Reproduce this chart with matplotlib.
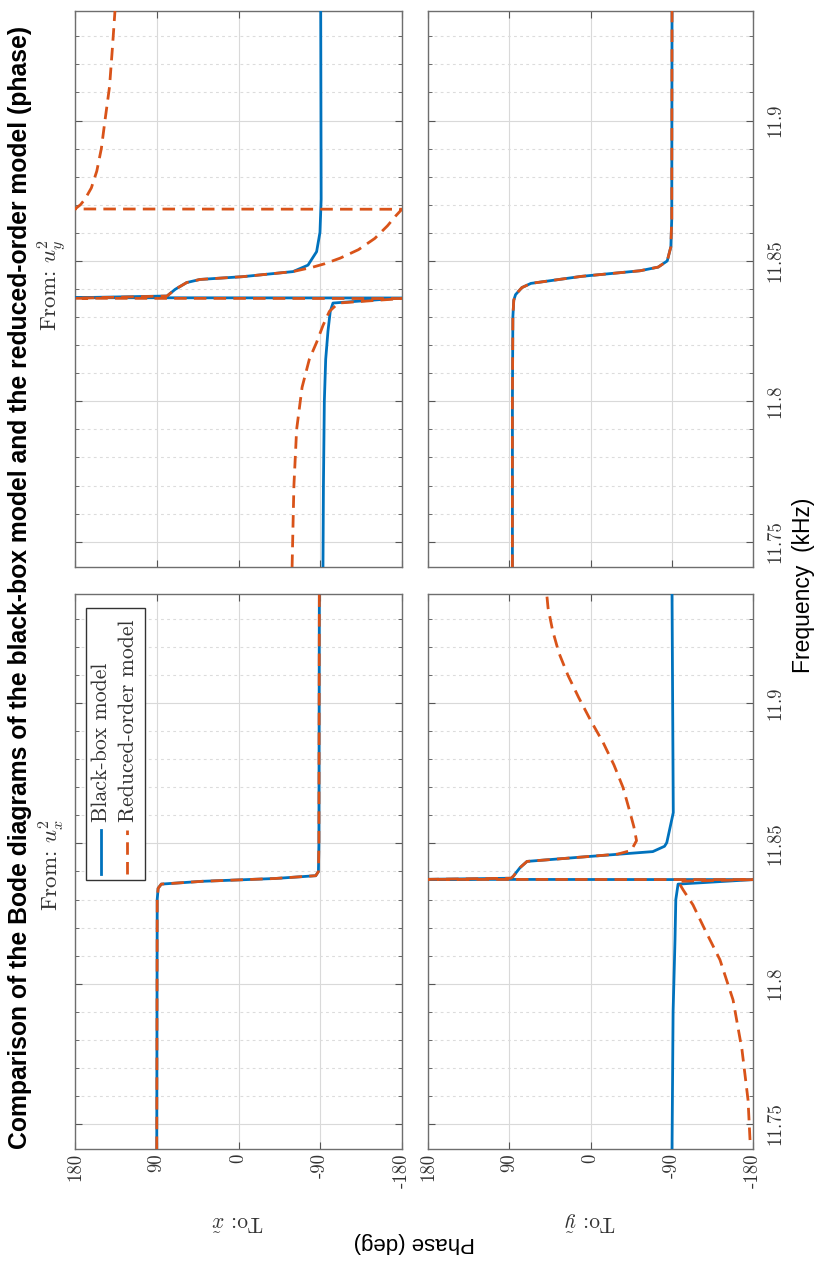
import numpy as np
import matplotlib
matplotlib.use('Agg')
import matplotlib.pyplot as plt
from matplotlib.patches import Rectangle
from matplotlib.lines import Line2D

plt.rcParams['mathtext.fontset'] = 'cm'
plt.rcParams['axes.unicode_minus'] = False

BLUE = '#0072BD'
ORANGE = '#D95319'
TXT = '#333333'

# ---------------- data (frequency in kHz, phase in deg) ----------------
# To x~ / From u_x^2 (both models coincide)
fA = [11.741, 11.830, 11.834, 11.8355, 11.8365, 11.837, 11.8375, 11.8385, 11.840, 11.850, 11.939]
pA = [90, 89.5, 88.5, 85, 40, 0, -40, -85, -88, -88.5, -89]

# To x~ / From u_y^2
fB_bb = [11.741, 11.770, 11.800, 11.815, 11.825, 11.832, 11.835, 11.8368, 11.8369, 11.8375, 11.8399,
         11.8423, 11.8434, 11.8444, 11.8462, 11.8485, 11.8533, 11.8602, 11.872, 11.939]
pB_bb = [-93, -93.5, -94.5, -96, -98.5, -101, -104, -179.9, 179.9, 78.7, 69.6,
         57, 42.4, -5, -60, -76.5, -86, -89.7, -91, -90.5]
fB_ro = [11.741, 11.770, 11.790, 11.805, 11.815, 11.821, 11.827, 11.832, 11.835, 11.8366, 11.8367,
         11.8375, 11.8399, 11.8423, 11.8434, 11.8444, 11.8462, 11.8478, 11.849, 11.851, 11.854,
         11.858, 11.8625, 11.866, 11.8684, 11.8685, 11.870, 11.872, 11.876, 11.882, 11.890,
         11.900, 11.912, 11.925, 11.939]
pB_ro = [-59, -61, -64, -70, -78, -86, -93, -100, -110, -179.9, 179.9,
         78.7, 69.6, 57, 42.4, -5, -60, -82, -95, -112, -132,
         -150, -164, -173, -179.9, 179.9, 174, 169, 162, 156, 151,
         147, 142, 139, 136]

# To y~ / From u_x^2
fC_bb = [11.741, 11.790, 11.8156, 11.830, 11.8355, 11.8371, 11.8372, 11.8376, 11.8383, 11.8414,
         11.8436, 11.8453, 11.8471, 11.8490, 11.8503, 11.861, 11.939]
pC_bb = [-90.3, -91.5, -93.6, -94.5, -97, -179.9, 179.9, 88, 85.5, 78,
         70.3, 4, -69, -82, -84.5, -91.7, -90.3]
fC_ro = [11.7442, 11.7585, 11.7764, 11.7942, 11.8085, 11.8192, 11.8281, 11.8335, 11.8365, 11.8371,
         11.8372, 11.8376, 11.8383, 11.8414, 11.8436, 11.8453, 11.8462, 11.8475, 11.851, 11.856,
         11.862, 11.870, 11.878, 11.886, 11.894, 11.902, 11.910, 11.918, 11.926, 11.934, 11.939]
pC_ro = [-176.7, -174.5, -167.8, -157.9, -143.4, -126.8, -113.5, -102.5, -97, -179.9,
         179.9, 88, 85.5, 78, 70.3, 4, -30, -45, -51, -48,
         -43, -36, -26, -14, 0, 13, 25, 35, 42, 47, 48.5]

# To y~ / From u_y^2 (both models coincide)
fD = [11.741, 11.800, 11.830, 11.836, 11.838, 11.8405, 11.842, 11.8445, 11.8465, 11.8478, 11.850, 11.855, 11.865, 11.939]
pD = [86.5, 86.5, 86, 85, 83, 76, 66, 10, -55, -75, -85, -89, -90, -90.3]

phase_ticks = [180, 90, 0, -90, -180]
phase_ticklabels = ['180', '90', '0', '-90', '-180']
freq_ticks = [11.75, 11.8, 11.85, 11.9]
freq_ticklabels = ['11.75', '11.8', '11.85', '11.9']
freq_minor = [11.76, 11.77, 11.78, 11.79, 11.81, 11.82, 11.83, 11.84, 11.86, 11.87, 11.88, 11.89,
              11.91, 11.92, 11.93]
FLIM = (11.741, 11.939)

# ---------------- figure (rotated layout) ----------------
W, H = 821, 1264
fig = plt.figure(figsize=(W / 100, H / 100), dpi=100)


def axpos(x0, x1, y0, y1):
    return [x0 / W, 1 - y1 / H, (x1 - x0) / W, (y1 - y0) / H]


COLS = {'x': (75, 402), 'y': (428, 753)}
ROWS = {'uy': (11, 567), 'ux': (594, 1149)}


def style(ax, bottom_labels, right_labels):
    ax.set_xlim(180, -180)
    ax.set_ylim(*FLIM)
    ax.set_xticks(phase_ticks)
    ax.set_xticklabels(phase_ticklabels if bottom_labels else [''] * 5)
    ax.set_yticks(freq_ticks)
    ax.set_yticklabels(freq_ticklabels if right_labels else [''] * 4)
    ax.set_yticks(freq_minor, minor=True)
    ax.tick_params(axis='both', which='both', direction='in', top=True, bottom=True,
                   left=True, right=True, labelleft=False, labelright=right_labels,
                   labelbottom=bottom_labels, colors='#555555', labelcolor=TXT)
    ax.tick_params(which='major', length=5, width=0.8)
    ax.tick_params(which='minor', length=3, width=0.6)
    ax.tick_params(axis='x', labelrotation=90, pad=3)
    ax.tick_params(axis='y', labelrotation=90, pad=10)
    for lb in ax.get_xticklabels() + ax.get_yticklabels():
        lb.set_fontfamily('cmr10')
        lb.set_fontsize(13.5)
    for lb in ax.get_yticklabels():
        lb.set_va('center')
    ax.grid(True, which='major', color='#d9d9d9', lw=0.8, ls='-')
    ax.grid(True, which='minor', axis='y', color='#dcdcdc', lw=0.8, ls=(0, (2.5, 3)))
    ax.set_axisbelow(True)
    for s in ax.spines.values():
        s.set_color('#6e6e6e')
        s.set_linewidth(1.0)


LW = 2.0
DASH = (4.5, 2.6)

panels = [
    ('x', 'ux', [(fA, pA), (fA, pA)]),
    ('x', 'uy', [(fB_bb, pB_bb), (fB_ro, pB_ro)]),
    ('y', 'ux', [(fC_bb, pC_bb), (fC_ro, pC_ro)]),
    ('y', 'uy', [(fD, pD), (fD, pD)]),
]
axes = {}
for col, row, series in panels:
    ax = fig.add_axes(axpos(*COLS[col], *ROWS[row]))
    (fb, pb), (fr, pr) = series
    ax.plot(pb, fb, color=BLUE, lw=LW, solid_joinstyle='round', zorder=3)
    ax.plot(pr, fr, color=ORANGE, lw=LW, dashes=DASH, zorder=4)
    style(ax, bottom_labels=(row == 'ux'), right_labels=(col == 'y'))
    axes[(col, row)] = ax

# legend (rotated, drawn manually in the To x~ / From u_x^2 panel)
fig.patches.append(Rectangle((86 / W, 1 - 880 / H), 59 / W, 272 / H, transform=fig.transFigure,
                             facecolor='white', edgecolor='#333333', lw=1.0, zorder=10))
fig.lines.append(Line2D([101 / W, 101 / W], [1 - 874 / H, 1 - 830 / H], transform=fig.transFigure,
                        color=BLUE, lw=LW, zorder=11))
fig.lines.append(Line2D([127 / W, 127 / W], [1 - 874 / H, 1 - 830 / H], transform=fig.transFigure,
                        color=ORANGE, lw=LW, dashes=DASH, zorder=11))
fig.text(101 / W, 1 - 822 / H, 'Black-box model', rotation=90, ha='center', va='bottom',
         fontfamily='cmr10', fontsize=15.7, color=TXT, zorder=12)
fig.text(128 / W, 1 - 822 / H, 'Reduced-order model', rotation=90, ha='center', va='bottom',
         fontfamily='cmr10', fontsize=15.7, color=TXT, zorder=12)

# titles and labels
fig.text(20 / W, 1 - 587 / H,
         'Comparison of the Bode diagrams of the black-box model and the reduced-order model (phase)',
         rotation=90, ha='center', va='center', fontsize=17.8, fontweight='bold',
         fontfamily='Liberation Sans', color='black')
fig.text(52 / W, 1 - 865 / H, r'From: $u_x^2$', rotation=90, ha='center', va='center',
         fontfamily='cmr10', fontsize=16.5, color=TXT)
fig.text(52 / W, 1 - 285 / H, r'From: $u_y^2$', rotation=90, ha='center', va='center',
         fontfamily='cmr10', fontsize=16.5, color=TXT)
fig.text(238 / W, 1 - 1222 / H, r'To: $\tilde{x}$', rotation=180, ha='center', va='center',
         fontfamily='cmr10', fontsize=15.5, color=TXT)
fig.text(590 / W, 1 - 1222 / H, r'To: $\tilde{y}$', rotation=180, ha='center', va='center',
         fontfamily='cmr10', fontsize=15.5, color=TXT)
fig.text(414 / W, 1 - 1243 / H, 'Phase (deg)', rotation=180, ha='center', va='center',
         fontfamily='Liberation Sans', fontsize=16, color='black')
fig.text(803 / W, 1 - 585 / H, 'Frequency  (kHz)', rotation=90, ha='center', va='center',
         fontfamily='Liberation Sans', fontsize=16.5, color='black')

fig.savefig('out.png', dpi=100, facecolor='white')
